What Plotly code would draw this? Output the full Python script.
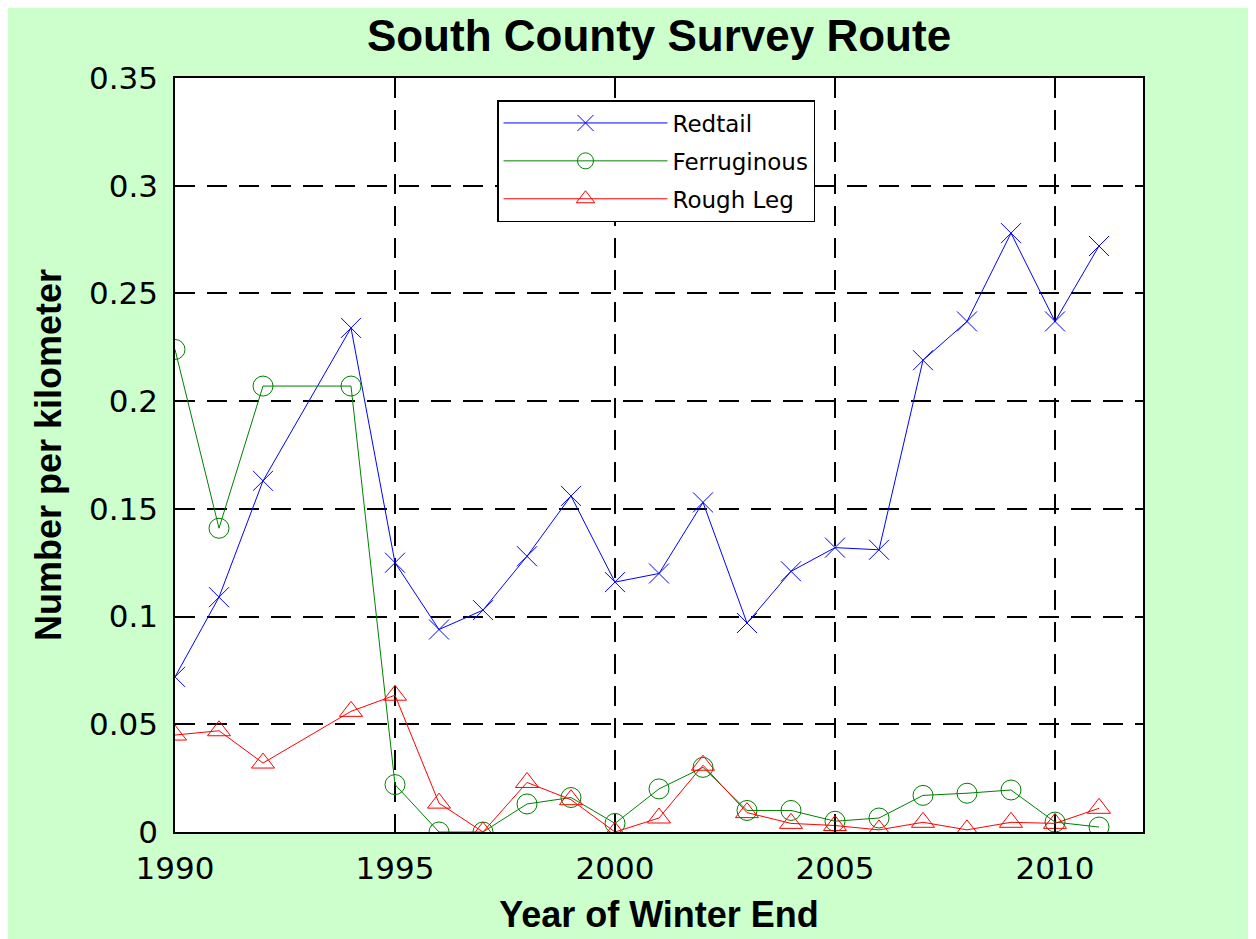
import plotly.graph_objects as go

years = [1990, 1991, 1992, 1994, 1995, 1996, 1997, 1998, 1999, 2000, 2001,
         2002, 2003, 2004, 2005, 2006, 2007, 2008, 2009, 2010, 2011]
redtail = [0.072, 0.109, 0.163, 0.234, 0.125, 0.094, 0.103, 0.128, 0.156, 0.116, 0.120,
           0.153, 0.097, 0.121, 0.132, 0.131, 0.219, 0.237, 0.278, 0.237, 0.272]
ferruginous = [0.224, 0.141, 0.207, 0.207, 0.022, 0.0, 0.0, 0.013, 0.016, 0.004, 0.020,
               0.030, 0.010, 0.010, 0.005, 0.0065, 0.017, 0.018, 0.0195, 0.0046, 0.0023]
rough_leg = [0.045, 0.047, 0.032, 0.056, 0.0635, 0.0134, 0.0, 0.023, 0.015, 0.0, 0.0065,
             0.031, 0.009, 0.004, 0.003, 0.001, 0.0045, 0.001, 0.0045, 0.004, 0.011]

x_ticks = [1990, 1995, 2000, 2005, 2010]
y_ticks = [0, 0.05, 0.1, 0.15, 0.2, 0.25, 0.3, 0.35]
y_tick_labels = ["0", "0.05", "0.1", "0.15", "0.2", "0.25", "0.3", "0.35"]

BOLD_FONT = "Liberation Sans, Arial, sans-serif"
TICK_FONT = "DejaVu Sans, sans-serif"

fig = go.Figure()
fig.add_trace(go.Scatter(x=years, y=redtail, name="Redtail", mode="lines+markers",
                         legendgroup="a",
                         line=dict(color="#0000FF", width=1),
                         marker=dict(symbol="x-thin-open", size=20,
                                     line=dict(color="#0000FF", width=1))))
fig.add_trace(go.Scatter(x=years, y=ferruginous, name="Ferruginous", mode="lines+markers",
                         legendgroup="b",
                         line=dict(color="#008000", width=1),
                         marker=dict(symbol="circle-open", size=20, color="#008000",
                                     line=dict(color="#008000", width=1))))
fig.add_trace(go.Scatter(x=years, y=rough_leg, name="Rough Leg", mode="lines+markers",
                         legendgroup="c",
                         line=dict(color="#FF0000", width=1),
                         marker=dict(symbol="triangle-up-open", size=20, color="#FF0000",
                                     line=dict(color="#FF0000", width=1))))

axis_common = dict(
    showline=True, linecolor="black", linewidth=1.5, mirror="ticks",
    ticks="inside", ticklen=8, tickcolor="black", tickwidth=1.5,
    showgrid=True, gridcolor="black", gridwidth=1.5, griddash="20px,12px",
    zeroline=False,
    tickfont=dict(family=TICK_FONT, size=31, color="black"),
)

fig.update_layout(
    width=1256, height=939,
    paper_bgcolor="#CCFFCC", plot_bgcolor="white",
    margin=dict(l=167, r=121, t=70, b=115),
    title=dict(text="<b>South County Survey Route</b>", x=0.5, xref="paper",
               y=1 - 28 / 939, yanchor="middle", xanchor="center",
               font=dict(family=BOLD_FONT, size=44, color="black")),
    xaxis=dict(range=[1990, 2012], tickvals=x_ticks, ticklabelstandoff=8,
               title=dict(text="<b>Year of Winter End</b>", standoff=17,
                          font=dict(family=BOLD_FONT, size=36, color="black")),
               **axis_common),
    yaxis=dict(range=[0, 0.35], tickvals=y_ticks, ticktext=y_tick_labels,
               ticklabelstandoff=9,
               title=dict(text="<b>Number per kilometer</b>", standoff=16,
                          font=dict(family=BOLD_FONT, size=36, color="black")),
               **axis_common),
    legend=dict(x=(497 - 175) / 968, y=(832 - 100) / 754, xanchor="left", yanchor="top",
                bgcolor="white", bordercolor="black", borderwidth=1.5,
                font=dict(family=TICK_FONT, size=23, color="black"),
                itemwidth=164, tracegroupgap=5, traceorder="grouped"),
    showlegend=True,
)

fig.write_html("out.html")
